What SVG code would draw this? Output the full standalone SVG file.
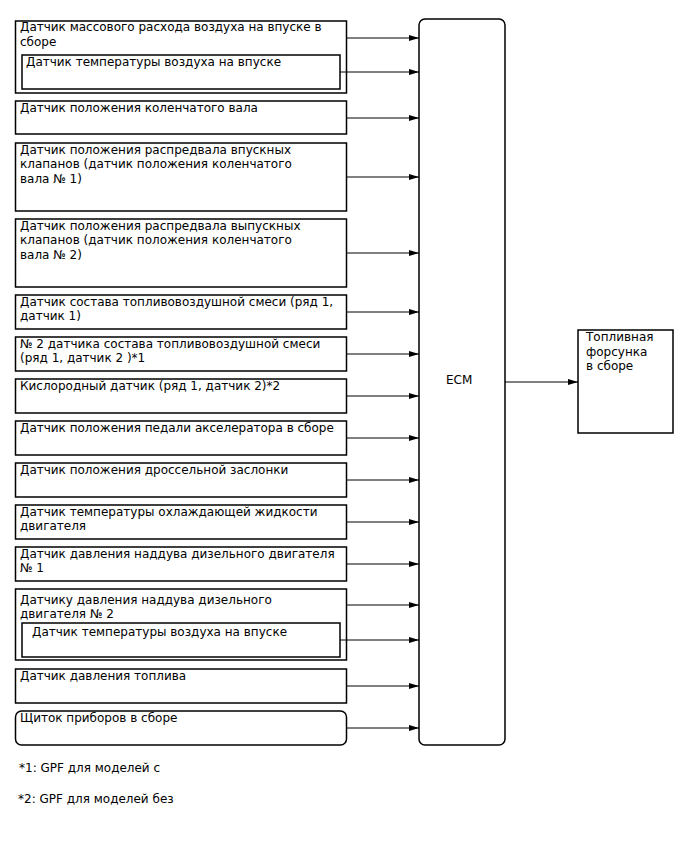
<svg xmlns="http://www.w3.org/2000/svg" width="688" height="852" viewBox="0 0 688 852">
<defs>
<marker id="ah" markerWidth="10" markerHeight="6" refX="10" refY="3" orient="auto" markerUnits="userSpaceOnUse">
<path d="M0,0 L10,3 L0,6 Z" fill="#000"/>
</marker>
<style>
.b{fill:#fff;stroke:#000;stroke-width:1.5}
.t{font-family:"DejaVu Sans",sans-serif;font-size:12px;fill:#000}
.c{stroke:#000;stroke-width:1;fill:none;marker-end:url(#ah)}
</style>
</defs>
<rect width="688" height="852" fill="#fff"/>
<g id="n1">
<rect class="b" x="15.5" y="21" width="331" height="72"/>
<text class="t" x="20" y="31">Датчик массового расхода воздуха на впуске в</text>
<text class="t" x="20" y="46">сборе</text>
<rect class="b" x="22" y="55" width="318" height="34"/>
<text class="t" x="26" y="66">Датчик температуры воздуха на впуске</text>
</g>
<g id="n2">
<rect class="b" x="15.5" y="101" width="331" height="33"/>
<text class="t" x="20" y="112">Датчик положения коленчатого вала</text>
</g>
<g id="n3">
<rect class="b" x="15.5" y="143" width="331" height="68"/>
<text class="t" x="20" y="154">Датчик положения распредвала впускных</text>
<text class="t" x="20" y="168">клапанов (датчик положения коленчатого</text>
<text class="t" x="20" y="183">вала № 1)</text>
</g>
<g id="n4">
<rect class="b" x="15.5" y="219" width="331" height="68"/>
<text class="t" x="20" y="230">Датчик положения распредвала выпускных</text>
<text class="t" x="20" y="244">клапанов (датчик положения коленчатого</text>
<text class="t" x="20" y="259">вала № 2)</text>
</g>
<g id="n5">
<rect class="b" x="15.5" y="295" width="331" height="34"/>
<text class="t" x="20" y="306">Датчик состава топливовоздушной смеси (ряд 1,</text>
<text class="t" x="20" y="320">датчик 1)</text>
</g>
<g id="n6">
<rect class="b" x="15.5" y="337" width="331" height="34"/>
<text class="t" x="20" y="348">№ 2 датчика состава топливовоздушной смеси</text>
<text class="t" x="20" y="362">(ряд 1, датчик 2 )*1</text>
</g>
<g id="n7">
<rect class="b" x="15.5" y="379" width="331" height="34"/>
<text class="t" x="20" y="390">Кислородный датчик (ряд 1, датчик 2)*2</text>
</g>
<g id="n8">
<rect class="b" x="15.5" y="421" width="331" height="34"/>
<text class="t" x="20" y="432">Датчик положения педали акселератора в сборе</text>
</g>
<g id="n9">
<rect class="b" x="15.5" y="463" width="331" height="34"/>
<text class="t" x="20" y="474">Датчик положения дроссельной заслонки</text>
</g>
<g id="n10">
<rect class="b" x="15.5" y="505" width="331" height="34"/>
<text class="t" x="20" y="516">Датчик температуры охлаждающей жидкости</text>
<text class="t" x="20" y="530">двигателя</text>
</g>
<g id="n11">
<rect class="b" x="15.5" y="547" width="331" height="34"/>
<text class="t" x="20" y="558">Датчик давления наддува дизельного двигателя</text>
<text class="t" x="20" y="572">№ 1</text>
</g>
<g id="n12">
<rect class="b" x="15.5" y="589" width="331" height="71"/>
<text class="t" x="20" y="604">Датчику давления наддува дизельного</text>
<text class="t" x="20" y="618">двигателя № 2</text>
<rect class="b" x="22" y="623" width="318" height="34"/>
<text class="t" x="32" y="636">Датчик температуры воздуха на впуске</text>
</g>
<g id="n13">
<rect class="b" x="15.5" y="669" width="331" height="34"/>
<text class="t" x="20" y="680">Датчик давления топлива</text>
</g>
<g id="n14">
<rect class="b" x="15.5" y="711" width="331" height="34" rx="6"/>
<text class="t" x="20" y="722">Щиток приборов в сборе</text>
</g>
<g id="ecm">
<rect class="b" x="419" y="19" width="86" height="726" rx="6"/>
<text class="t" x="446" y="384">ECM</text>
</g>
<g id="inj">
<rect class="b" x="578" y="330" width="95" height="103"/>
<text class="t" x="586" y="341">Топливная</text>
<text class="t" x="586" y="356">форсунка</text>
<text class="t" x="586" y="370">в сборе</text>
</g>
<g id="connectors">
<line class="c" x1="346" y1="38" x2="419" y2="38"/>
<line class="c" x1="340" y1="72" x2="419" y2="72"/>
<line class="c" x1="346" y1="118" x2="419" y2="118"/>
<line class="c" x1="346" y1="177" x2="419" y2="177"/>
<line class="c" x1="346" y1="253" x2="419" y2="253"/>
<line class="c" x1="346" y1="312" x2="419" y2="312"/>
<line class="c" x1="346" y1="354" x2="419" y2="354"/>
<line class="c" x1="346" y1="396" x2="419" y2="396"/>
<line class="c" x1="346" y1="438" x2="419" y2="438"/>
<line class="c" x1="346" y1="480" x2="419" y2="480"/>
<line class="c" x1="346" y1="522" x2="419" y2="522"/>
<line class="c" x1="346" y1="564" x2="419" y2="564"/>
<line class="c" x1="346" y1="605" x2="419" y2="605"/>
<line class="c" x1="340" y1="640" x2="419" y2="640"/>
<line class="c" x1="346" y1="686" x2="419" y2="686"/>
<line class="c" x1="346" y1="728" x2="419" y2="728"/>
<line class="c" x1="505" y1="382" x2="578" y2="382"/>
</g>
<g id="notes">
<text class="t" x="19" y="772">*1: GPF для моделей с</text>
<text class="t" x="18" y="803">*2: GPF для моделей без</text>
</g>
</svg>
